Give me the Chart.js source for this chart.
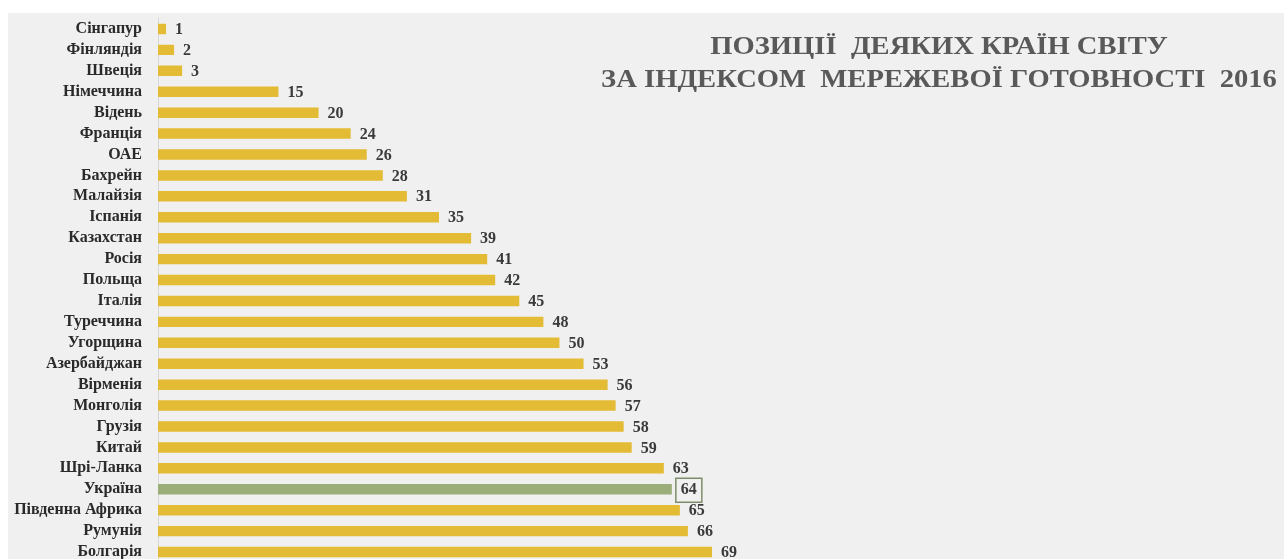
<!DOCTYPE html>
<html>
<head>
<meta charset="utf-8">
<script src="https://cdn.jsdelivr.net/npm/chart.js@4.4.1/dist/chart.umd.min.js"></script>
<style>
  html, body { margin: 0; padding: 0; background: #ffffff; overflow: hidden; }
  #wrap { position: absolute; left: 8px; top: 13px; width: 1276px; height: 560px; background: #f0f0f0; overflow: hidden; }
  #box { position: absolute; left: 0; top: 0; width: 1276px; height: 552px; }
  #title { position: absolute; left: 431px; width: 1000px; top: 16px; text-align: center;
           font-family: "Liberation Serif", "DejaVu Serif", serif; font-weight: bold; font-size: 26px;
           line-height: 33px; color: #595959; white-space: pre; transform: scaleX(1.1); transform-origin: 500px 0; }
</style>
</head>
<body>
<div id="wrap">
  <div id="box"><canvas id="myChart"></canvas></div>
  <div id="title">ПОЗИЦІЇ  ДЕЯКИХ КРАЇН СВІТУ
ЗА ІНДЕКСОМ  МЕРЕЖЕВОЇ ГОТОВНОСТІ  2016</div>
</div>
<script>
var countries = ['Сінгапур', 'Фінляндія', 'Швеція', 'Німеччина', 'Відень', 'Франція', 'ОАЕ', 'Бахрейн',
  'Малайзія', 'Іспанія', 'Казахстан', 'Росія', 'Польща', 'Італія', 'Туреччина', 'Угорщина',
  'Азербайджан', 'Вірменія', 'Монголія', 'Грузія', 'Китай', 'Шрі-Ланка', 'Україна',
  'Південна Африка', 'Румунія', 'Болгарія'];
var ranks = [1, 2, 3, 15, 20, 24, 26, 28, 31, 35, 39, 41, 42, 45, 48, 50, 53, 56, 57, 58, 59, 63, 64, 65, 66, 69];
var highlight = 'Україна';

var yellow = '#e3bb35';
var green = '#9bad78';
var serif = '"Liberation Serif", "DejaVu Serif", serif';

// value labels at the end of each bar, Ukraine gets a box
var valueLabels = {
  id: 'valueLabels',
  afterDatasetsDraw: function(chart) {
    var c = chart.ctx;
    var meta = chart.getDatasetMeta(0);
    c.save();
    c.font = 'bold 16px ' + serif;
    c.fillStyle = '#3a3a3a';
    c.textBaseline = 'middle';
    c.textAlign = 'left';
    meta.data.forEach(function(bar, i) {
      var x = bar.x + 9;
      var txt = String(ranks[i]);
      c.fillText(txt, x, bar.y + 1);
      if (countries[i] === highlight) {
        var w = c.measureText(txt).width;
        c.strokeStyle = '#7d8c6a';
        c.lineWidth = 1.5;
        c.strokeRect(x - 5, bar.y - 11, w + 10, 24);
      }
    });
    c.restore();
  }
};

var ctx = document.getElementById('myChart').getContext('2d');
var myChart = new Chart(ctx, {
  type: 'bar',
  data: {
    labels: countries,
    datasets: [{
      data: ranks,
      backgroundColor: countries.map(function(n) { return n === highlight ? green : yellow; }),
      barPercentage: 0.5,
      categoryPercentage: 1.0
    }]
  },
  plugins: [valueLabels],
  options: {
    indexAxis: 'y',
    responsive: true,
    maintainAspectRatio: false,
    animation: false,
    layout: { padding: { top: 5.5, bottom: 2.5, left: 0, right: 10 } },
    plugins: {
      legend: { display: false },
      tooltip: { enabled: false }
    },
    scales: {
      x: { display: false, min: 0, max: 139 },
      y: {
        afterFit: function(scale) {
          scale.width = 150;
          scale.paddingTop = 0;
          scale.paddingBottom = 0;
        },
        grid: { display: false, drawTicks: false },
        border: { display: true, color: '#d6d6d6', width: 1 },
        ticks: {
          padding: 16,
          autoSkip: false,
          color: '#2a2a2a',
          font: { family: serif, size: 16, weight: 'bold' }
        }
      }
    }
  }
});
</script>
</body>
</html>
